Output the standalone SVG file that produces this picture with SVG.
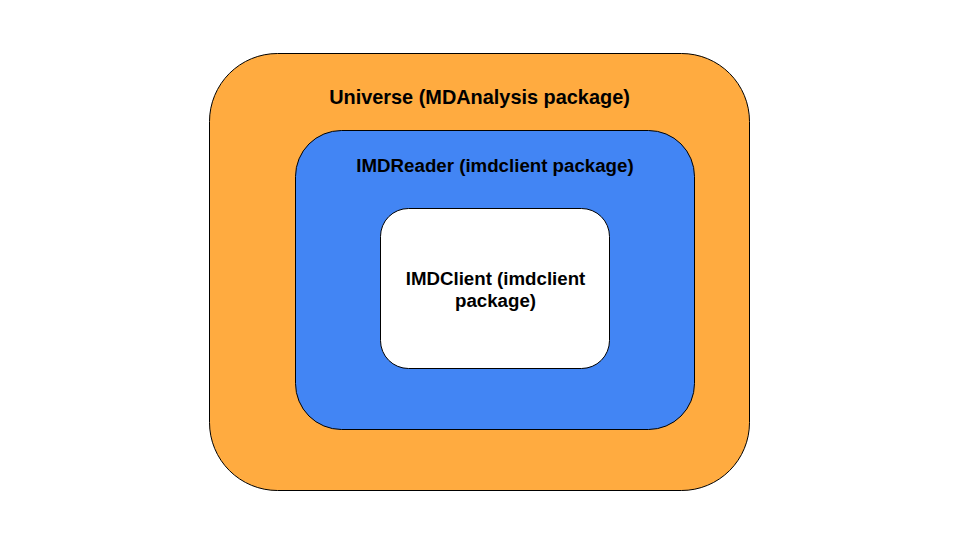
<svg xmlns="http://www.w3.org/2000/svg" width="960" height="540" viewBox="0 0 960 540">
<style>
.t{font-family:"Liberation Sans",Arial,sans-serif;font-weight:bold;font-size:18.7px;fill:#000;text-anchor:middle}
.b{stroke:#000;stroke-width:1}
</style>
<rect width="960" height="540" fill="#fff"/>
<g id="universe">
<rect class="b" x="209.5" y="53.5" width="540" height="437" rx="68" ry="68" fill="#ffab40"/>
<text class="t" x="479.5" y="104" style="font-size:19.9px">Universe (MDAnalysis package)</text>
</g>
<g id="imdreader">
<rect class="b" x="295.5" y="130.5" width="399" height="299" rx="46" ry="46" fill="#4285f4" stroke="#333"/>
<text class="t" x="495" y="172">IMDReader (imdclient package)</text>
</g>
<g id="imdclient">
<rect class="b" x="380.5" y="208.5" width="229" height="160" rx="28" ry="28" fill="#fff"/>
<text class="t" x="495.5" y="285">IMDClient (imdclient</text>
<text class="t" x="495.5" y="307">package)</text>
</g>
<g id="connectors"></g>
</svg>
